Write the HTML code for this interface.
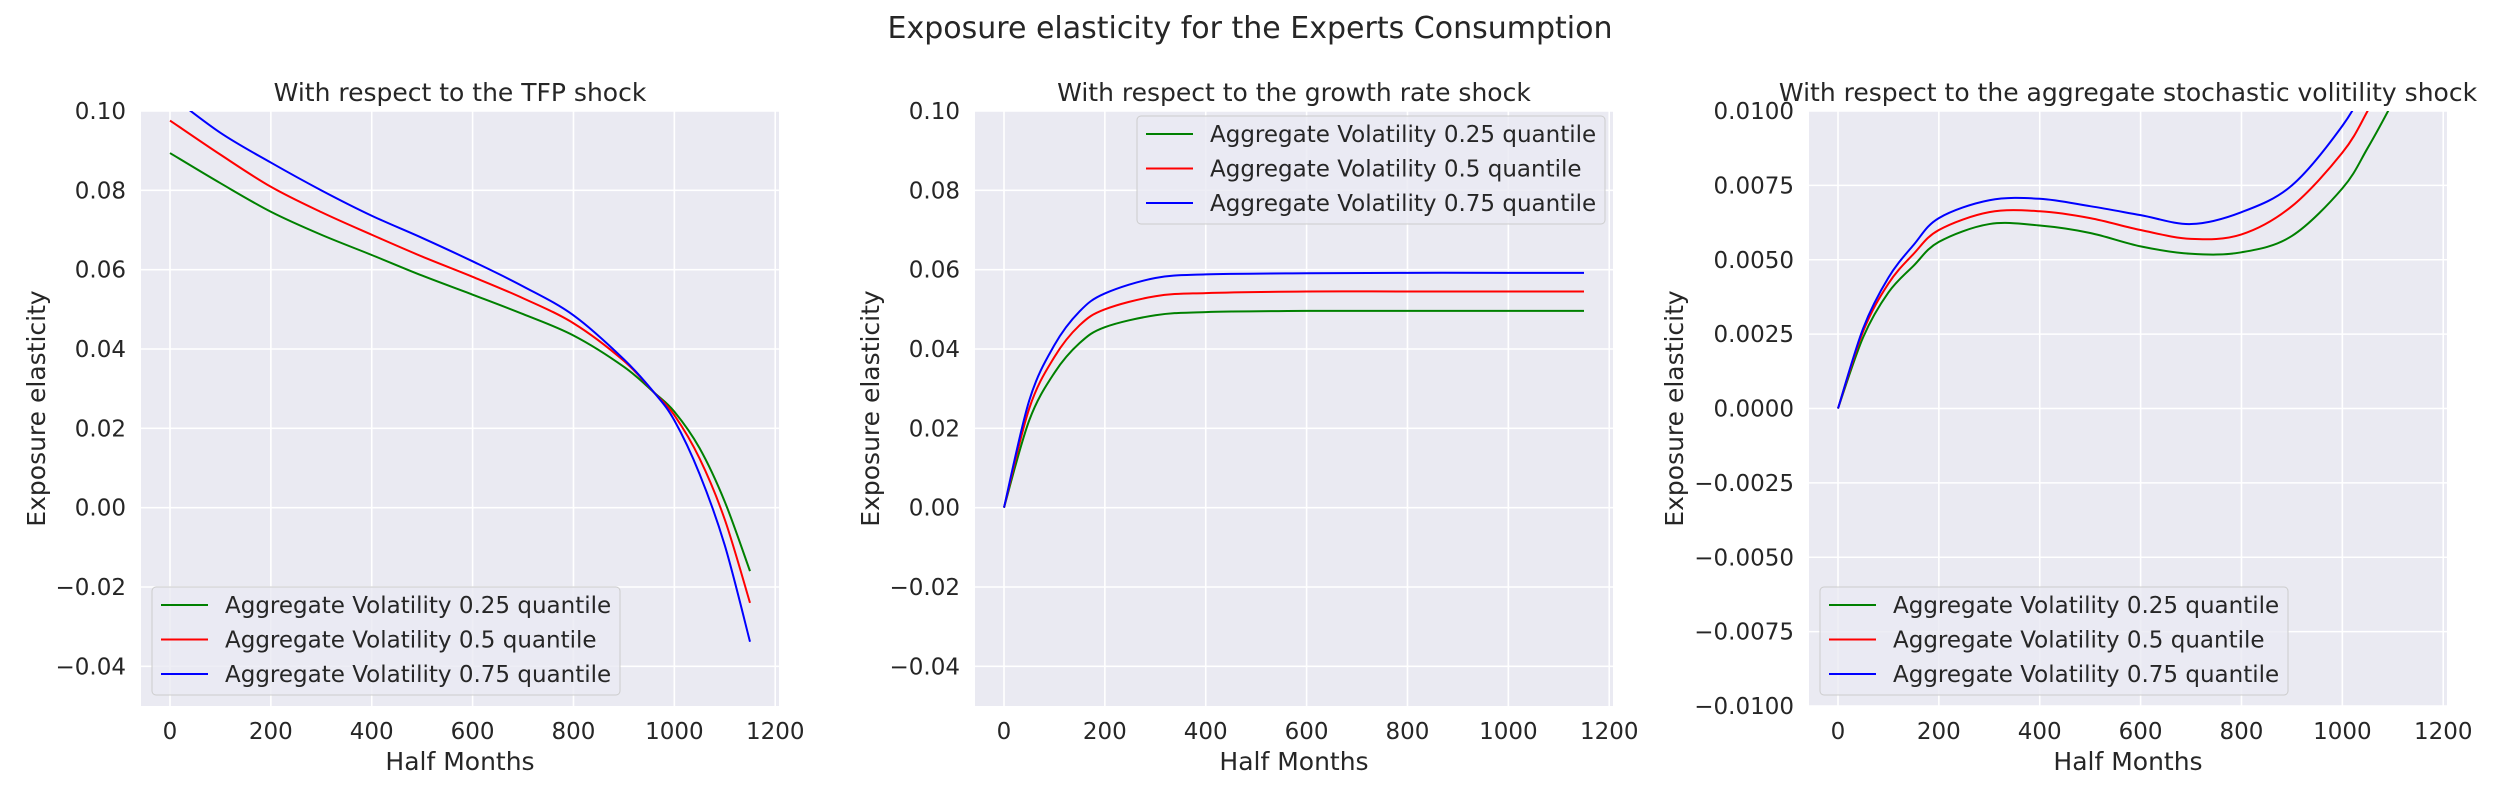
<!DOCTYPE html>
<html><head><meta charset="utf-8">
<style>
html,body{margin:0;padding:0;background:#fff;}
svg{display:block;font-family:"DejaVu Sans","Liberation Sans",sans-serif;}
</style></head>
<body>
<svg id="fig" width="2500" height="800" viewBox="0 0 2500 800" xmlns="http://www.w3.org/2000/svg">
<text x="1250" y="38" font-size="30" fill="#262626" text-anchor="middle">Exposure elasticity for the Experts Consumption</text>
</svg>
<script>
// ---- data ----
const xTicks = [0,200,400,600,800,1000,1200];
const yTicksA = [0.10,0.08,0.06,0.04,0.02,0.00,-0.02,-0.04];
const yTicksC = [0.01,0.0075,0.005,0.0025,0,-0.0025,-0.005,-0.0075,-0.01];
const seriesNames = ["Aggregate Volatility 0.25 quantile","Aggregate Volatility 0.5 quantile","Aggregate Volatility 0.75 quantile"];
const seriesColors = ["#008000","#ff0000","#0000ff"];

const tfpX = [0,100,200,300,400,500,600,700,800,900,960,1000,1050,1100,1150];
const tfpLow = [0.0894,0.0818,0.0746,0.0688,0.0637,0.0585,0.0537,0.0488,0.0434,0.0355,0.0290,0.0242,0.0150,0.0015,-0.0160];
const tfpMid = [0.0976,0.0890,0.0809,0.0745,0.0688,0.0633,0.0582,0.0528,0.0465,0.0370,0.0290,0.0233,0.0124,-0.0030,-0.0240];
const tfpHigh = [0.1040,0.0945,0.0870,0.0800,0.0736,0.0680,0.0621,0.0558,0.0485,0.0374,0.0290,0.0220,0.0085,-0.0095,-0.0338];

const grX = [0,50,100,150,200,300,400,600,800,1000,1150];
const grLow = [0,0.022,0.034,0.0415,0.0455,0.0485,0.0493,0.0496,0.0496,0.0496,0.0496];
const grMid = [0,0.025,0.038,0.046,0.050,0.0533,0.0541,0.0545,0.0545,0.0545,0.0545];
const grHigh = [0,0.027,0.041,0.0495,0.054,0.0579,0.0588,0.0591,0.0592,0.0592,0.0592];

const svX = [0,50,100,150,200,300,400,500,600,700,800,900,1000,1050,1100,1150];
const svLow = [0,0.0024,0.0039,0.0048,0.0056,0.0062,0.00615,0.0059,0.00545,0.0052,0.00525,0.0058,0.0074,0.00875,0.0103,0.0120];
const svMid = [0,0.0026,0.0042,0.0052,0.0060,0.0066,0.00663,0.0064,0.0060,0.0057,0.00585,0.0068,0.0086,0.0100,0.0117,0.0135];
const svHigh = [0,0.0027,0.0044,0.0055,0.0064,0.0070,0.00705,0.0068,0.0065,0.0062,0.0066,0.0075,0.0095,0.0110,0.0128,0.0148];

// ---- drawing ----
const NS = "http://www.w3.org/2000/svg";
const svg = document.getElementById("fig");
function el(tag, attrs, parent){const e=document.createElementNS(NS,tag);for(const k in attrs)e.setAttribute(k,attrs[k]);(parent||svg).appendChild(e);return e;}
function fmt(v,d){const s=Math.abs(v).toFixed(d);return (v<-1e-12?"\u2212":"")+s;}

const panels = [
 {left:141,title:"With respect to the TFP shock",ymin:-0.05,ymax:0.10,yt:yTicksA,dec:2,xs:tfpX,ys:[tfpLow,tfpMid,tfpHigh],legend:{x:152,y:587},ylab:37,id:"tfp"},
 {left:975,title:"With respect to the growth rate shock",ymin:-0.05,ymax:0.10,yt:yTicksA,dec:2,xs:grX,ys:[grLow,grMid,grHigh],legend:{x:1137,y:116},ylab:871,id:"growth"},
 {left:1809,title:"With respect to the aggregate stochastic volitility shock",ymin:-0.01,ymax:0.01,yt:yTicksC,dec:4,xs:svX,ys:[svLow,svMid,svHigh],legend:{x:1820,y:587},ylab:1675,id:"vol"}
];
const W=638, TOP=111, BOT=706, XMIN=-57.5, XMAX=1207.5;

panels.forEach((p,pi)=>{
  const g=el("g",{});
  
  
  const sx=v=>p.left+(v-XMIN)/(XMAX-XMIN)*W;
  const sy=v=>BOT-(v-p.ymin)/(p.ymax-p.ymin)*(BOT-TOP);
  const bg=el("rect",{x:p.left,y:TOP,width:W,height:BOT-TOP,fill:"#eaeaf2"},g);
  
  
  const cid="clip"+pi;
  const cp=el("clipPath",{id:cid},g); el("rect",{x:p.left,y:TOP,width:W,height:BOT-TOP},cp);
  xTicks.forEach(t=>{
    const x=sx(t);
    el("line",{x1:x,x2:x,y1:TOP,y2:BOT,stroke:"#fff","stroke-width":1.6},g);
    const tx=el("text",{x:x,y:739,"font-size":23,fill:"#262626","text-anchor":"middle"},g);
    tx.textContent=t;
    
    
  });
  p.yt.forEach(t=>{
    const y=sy(t);
    el("line",{x1:p.left,x2:p.left+W,y1:y,y2:y,stroke:"#fff","stroke-width":1.6},g);
    const tx=el("text",{x:p.left-15,y:y+8,"font-size":23,fill:"#262626","text-anchor":"end"},g);
    tx.textContent=fmt(t,p.dec);
    
    
  });
  const ti=el("text",{x:p.left+W/2,y:101,"font-size":25,fill:"#262626","text-anchor":"middle"},g);
  ti.textContent=p.title;
  
  
  const xl=el("text",{x:p.left+W/2,y:770,"font-size":25,fill:"#262626","text-anchor":"middle"},g);
  xl.textContent="Half Months";
  
  
  const yc=(TOP+BOT)/2;
  const yl=el("text",{x:p.ylab,y:yc,"font-size":25,fill:"#262626","text-anchor":"middle",transform:`rotate(-90 ${p.ylab} ${yc})`,dy:8},g);
  yl.textContent="Exposure elasticity";
  
  
  const lg=el("g",{"clip-path":`url(#${cid})`},g);
  p.ys.forEach((ys,si)=>{
    const pts=p.xs.map((x,i)=>[sx(x),sy(ys[i])]);
    let d=`M${pts[0][0]},${pts[0][1]}`;
    for(let i=0;i<pts.length-1;i++){
      const p0=pts[Math.max(0,i-1)],p1=pts[i],p2=pts[i+1],p3=pts[Math.min(pts.length-1,i+2)];
      const c1=[p1[0]+(p2[0]-p0[0])/6,p1[1]+(p2[1]-p0[1])/6];
      const c2=[p2[0]-(p3[0]-p1[0])/6,p2[1]-(p3[1]-p1[1])/6];
      d+=` C${c1[0]},${c1[1]} ${c2[0]},${c2[1]} ${p2[0]},${p2[1]}`;
    }
    const path=el("path",{d:d,fill:"none",stroke:seriesColors[si],"stroke-width":2},lg);
    
    
  });
  const L=p.legend;
  const lb=el("g",{},g);
  
  
  el("rect",{x:L.x,y:L.y,width:468,height:108,rx:4,fill:"#eaeaf2","fill-opacity":0.8,stroke:"#cccccc","stroke-width":1},lb);
  seriesNames.forEach((n,si)=>{
    const cy=L.y+18+si*34.5;
    el("line",{x1:L.x+9,x2:L.x+56,y1:cy,y2:cy,stroke:seriesColors[si],"stroke-width":2},lb);
    const t=el("text",{x:L.x+73,y:cy+8,"font-size":23,fill:"#262626"},lb);
    t.textContent=n;
    
    
  });
});
</script>
</body></html>
